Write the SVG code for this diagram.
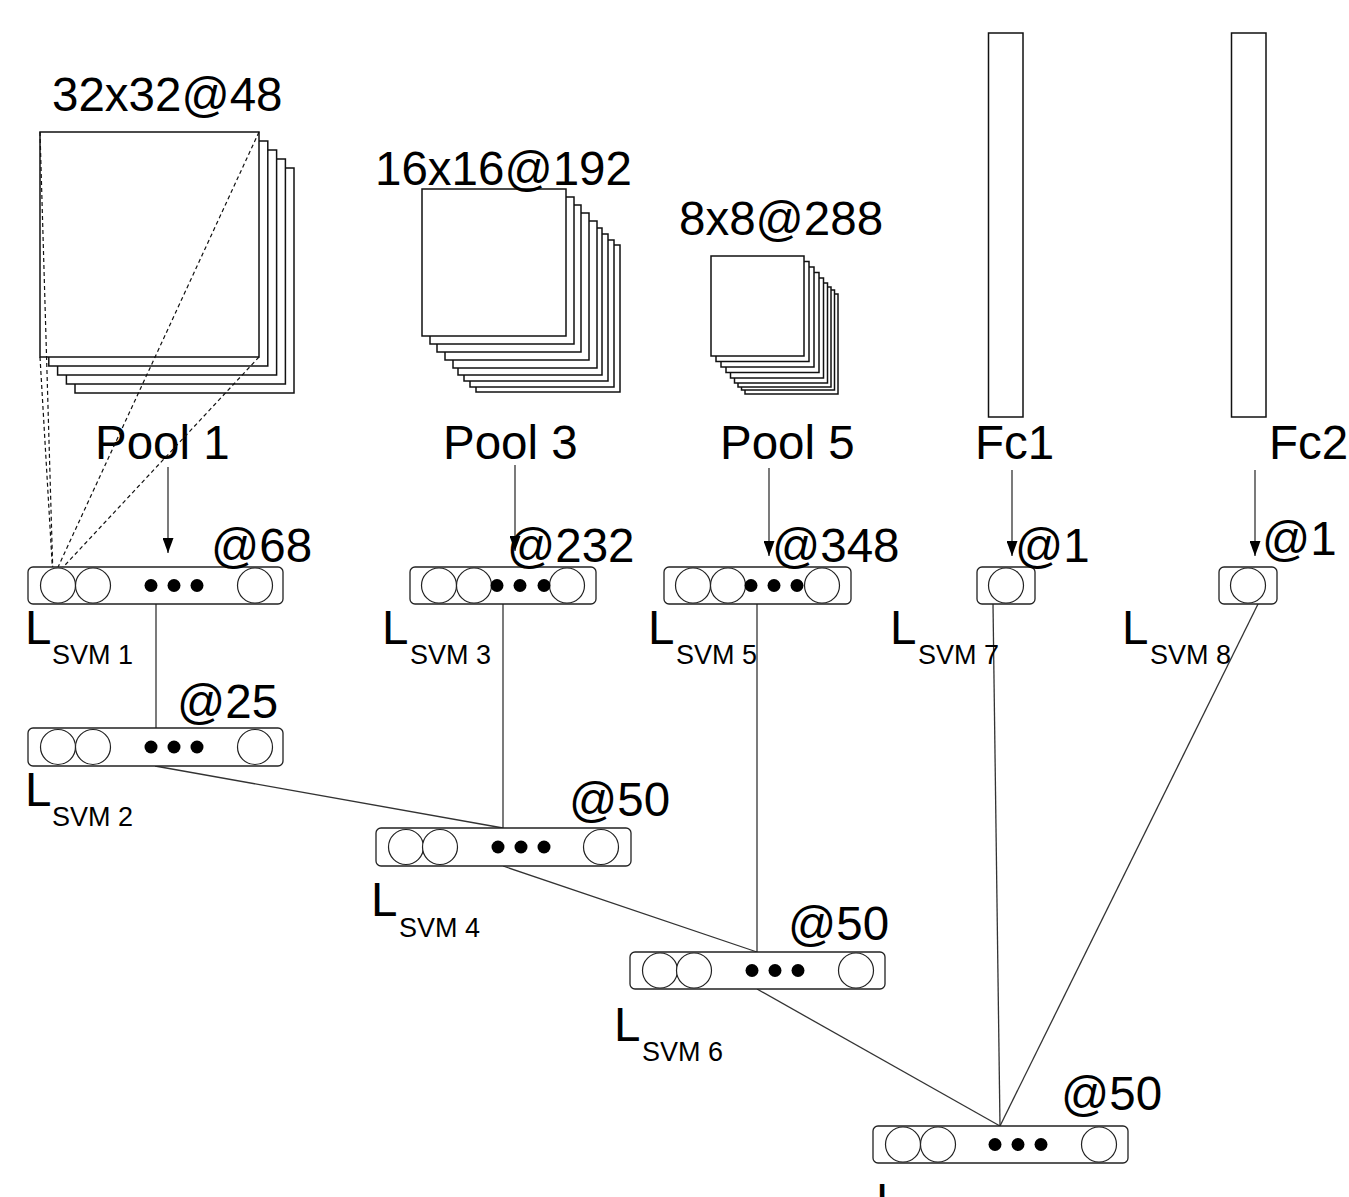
<svg xmlns="http://www.w3.org/2000/svg" width="1349" height="1197" viewBox="0 0 1349 1197">
<style>
text{font-family:"Liberation Sans",Arial,sans-serif;fill:#000}
.big{font-size:47.5px}
.sub{font-size:27px}
.lay{fill:#fff;stroke:#111;stroke-width:1.5}
.box{fill:#fff;stroke:#222;stroke-width:1.3}
.c{fill:#fff;stroke:#222;stroke-width:1.2}
.d{fill:#000}
.ln{stroke:#333;stroke-width:1.3;fill:none}
.dash{stroke:#111;stroke-width:1.2;stroke-dasharray:4 3;fill:none}
</style>
<defs>
<marker id="ah" markerWidth="15" markerHeight="11" refX="15" refY="5.5" orient="auto" markerUnits="userSpaceOnUse">
<path d="M0,0 L15,5.5 L0,11 Z" fill="#000"/>
</marker>
</defs>

<g id="stack1">
<rect class="lay" x="75" y="168" width="219" height="225"/>
<rect class="lay" x="66.4" y="159" width="219" height="225"/>
<rect class="lay" x="57.6" y="150" width="219" height="225"/>
<rect class="lay" x="48.8" y="141" width="219" height="225"/>
<rect class="lay" x="40" y="132" width="219" height="225"/>
<text class="big" x="52" y="111">32x32@48</text>
<text class="big" x="95" y="459">Pool 1</text>
</g>

<g id="stack3">
<rect class="lay" x="476" y="245" width="144" height="147"/>
<rect class="lay" x="470" y="240" width="144" height="147"/>
<rect class="lay" x="464" y="234" width="144" height="147"/>
<rect class="lay" x="458" y="228" width="144" height="147"/>
<rect class="lay" x="453" y="221" width="144" height="147"/>
<rect class="lay" x="445" y="213" width="144" height="147"/>
<rect class="lay" x="437" y="205" width="144" height="147"/>
<rect class="lay" x="430" y="197" width="144" height="147"/>
<rect class="lay" x="422" y="189" width="144" height="147"/>
<text class="big" x="375" y="185">16x16@192</text>
<text class="big" x="443" y="459">Pool 3</text>
</g>

<g id="stack5">
<rect class="lay" x="745" y="294" width="93" height="100"/>
<rect class="lay" x="741.5" y="290" width="93" height="100"/>
<rect class="lay" x="738" y="287" width="93" height="100"/>
<rect class="lay" x="734.5" y="283" width="93" height="100"/>
<rect class="lay" x="730.5" y="278" width="93" height="100"/>
<rect class="lay" x="726" y="272.5" width="93" height="100"/>
<rect class="lay" x="721" y="267" width="93" height="100"/>
<rect class="lay" x="716" y="261.5" width="93" height="100"/>
<rect class="lay" x="711" y="256" width="93" height="100"/>
<text class="big" x="679" y="235">8x8@288</text>
<text class="big" x="720" y="459">Pool 5</text>
</g>

<g id="fc1">
<rect class="lay" x="988.5" y="33" width="34.5" height="384"/>
<text class="big" x="975" y="459">Fc1</text>
</g>

<g id="fc2">
<rect class="lay" x="1231.5" y="33" width="34.5" height="384"/>
<text class="big" x="1269" y="459">Fc2</text>
</g>

<g id="connectors">
<line class="dash" x1="40" y1="132" x2="53" y2="578"/>
<line class="dash" x1="259" y1="132" x2="53" y2="578"/>
<line class="dash" x1="40" y1="357" x2="53" y2="578"/>
<line class="dash" x1="259" y1="357" x2="53" y2="578"/>
<line class="ln" x1="168" y1="467" x2="168" y2="553" marker-end="url(#ah)"/>
<line class="ln" x1="515" y1="465" x2="515" y2="551" marker-end="url(#ah)"/>
<line class="ln" x1="769" y1="468" x2="769" y2="556" marker-end="url(#ah)"/>
<line class="ln" x1="1012" y1="470" x2="1012" y2="556" marker-end="url(#ah)"/>
<line class="ln" x1="1255" y1="470" x2="1255" y2="556" marker-end="url(#ah)"/>
<line class="ln" x1="156" y1="604" x2="156" y2="728"/>
<line class="ln" x1="503" y1="604" x2="503" y2="828"/>
<line class="ln" x1="757" y1="604" x2="757" y2="952"/>
<line class="ln" x1="155" y1="766" x2="503" y2="828"/>
<line class="ln" x1="503" y1="866" x2="757" y2="952"/>
<line class="ln" x1="757" y1="989" x2="1000" y2="1126"/>
<line class="ln" x1="993" y1="604" x2="1000" y2="1126"/>
<line class="ln" x1="1260" y1="600" x2="1000" y2="1126"/>
</g>

<g id="svm1">
<rect class="box" x="28" y="567" width="255" height="37" rx="5"/>
<circle class="c" cx="58" cy="585.5" r="17.5"/>
<circle class="c" cx="93" cy="585.5" r="17.5"/>
<circle class="c" cx="255" cy="585.5" r="17.5"/>
<circle class="d" cx="151" cy="585.5" r="6.5"/>
<circle class="d" cx="174" cy="585.5" r="6.5"/>
<circle class="d" cx="197" cy="585.5" r="6.5"/>
<text class="big" x="211" y="562">@68</text>
<text class="big" x="25" y="644">L</text>
<text class="sub" x="52" y="664">SVM 1</text>
</g>

<g id="svm2">
<rect class="box" x="28" y="728" width="255" height="38" rx="5"/>
<circle class="c" cx="58" cy="747" r="17.5"/>
<circle class="c" cx="93" cy="747" r="17.5"/>
<circle class="c" cx="255" cy="747" r="17.5"/>
<circle class="d" cx="151" cy="747" r="6.5"/>
<circle class="d" cx="174" cy="747" r="6.5"/>
<circle class="d" cx="197" cy="747" r="6.5"/>
<text class="big" x="177" y="718">@25</text>
<text class="big" x="25" y="806">L</text>
<text class="sub" x="52" y="826">SVM 2</text>
</g>

<g id="svm3">
<rect class="box" x="410" y="567" width="186" height="37" rx="5"/>
<circle class="c" cx="439" cy="585.5" r="17.5"/>
<circle class="c" cx="474" cy="585.5" r="17.5"/>
<circle class="c" cx="567" cy="585.5" r="17.5"/>
<circle class="d" cx="497" cy="585.5" r="6.5"/>
<circle class="d" cx="520" cy="585.5" r="6.5"/>
<circle class="d" cx="544" cy="585.5" r="6.5"/>
<text class="big" x="507" y="562">@232</text>
<text class="big" x="382" y="644">L</text>
<text class="sub" x="410" y="664">SVM 3</text>
</g>

<g id="svm5">
<rect class="box" x="664" y="567" width="187" height="37" rx="5"/>
<circle class="c" cx="693" cy="585.5" r="17.5"/>
<circle class="c" cx="728" cy="585.5" r="17.5"/>
<circle class="c" cx="822" cy="585.5" r="17.5"/>
<circle class="d" cx="751" cy="585.5" r="6.5"/>
<circle class="d" cx="774" cy="585.5" r="6.5"/>
<circle class="d" cx="797" cy="585.5" r="6.5"/>
<text class="big" x="772" y="562">@348</text>
<text class="big" x="648" y="644">L</text>
<text class="sub" x="676" y="664">SVM 5</text>
</g>

<g id="svm7">
<rect class="box" x="977" y="567" width="58" height="37" rx="5"/>
<circle class="c" cx="1006" cy="585.5" r="17.5"/>
<text class="big" x="1015" y="562">@1</text>
<text class="big" x="890" y="644">L</text>
<text class="sub" x="918" y="664">SVM 7</text>
</g>

<g id="svm8">
<rect class="box" x="1219" y="567" width="58" height="37" rx="5"/>
<circle class="c" cx="1248" cy="585.5" r="17.5"/>
<text class="big" x="1262" y="555">@1</text>
<text class="big" x="1122" y="644">L</text>
<text class="sub" x="1150" y="664">SVM 8</text>
</g>

<g id="svm4">
<rect class="box" x="376" y="828" width="255" height="38" rx="5"/>
<circle class="c" cx="406" cy="847" r="17.5"/>
<circle class="c" cx="440" cy="847" r="17.5"/>
<circle class="c" cx="601" cy="847" r="17.5"/>
<circle class="d" cx="498" cy="847" r="6.5"/>
<circle class="d" cx="521" cy="847" r="6.5"/>
<circle class="d" cx="544" cy="847" r="6.5"/>
<text class="big" x="569" y="816">@50</text>
<text class="big" x="371" y="916">L</text>
<text class="sub" x="399" y="937">SVM 4</text>
</g>

<g id="svm6">
<rect class="box" x="630" y="952" width="255" height="37" rx="5"/>
<circle class="c" cx="660" cy="970.5" r="17.5"/>
<circle class="c" cx="694" cy="970.5" r="17.5"/>
<circle class="c" cx="856" cy="970.5" r="17.5"/>
<circle class="d" cx="752" cy="970.5" r="6.5"/>
<circle class="d" cx="775" cy="970.5" r="6.5"/>
<circle class="d" cx="798" cy="970.5" r="6.5"/>
<text class="big" x="788" y="940">@50</text>
<text class="big" x="614" y="1041">L</text>
<text class="sub" x="642" y="1061">SVM 6</text>
</g>

<g id="svm9">
<rect class="box" x="873" y="1126" width="255" height="37" rx="5"/>
<circle class="c" cx="903" cy="1144.5" r="17.5"/>
<circle class="c" cx="938" cy="1144.5" r="17.5"/>
<circle class="c" cx="1099" cy="1144.5" r="17.5"/>
<circle class="d" cx="995" cy="1144.5" r="6.5"/>
<circle class="d" cx="1018" cy="1144.5" r="6.5"/>
<circle class="d" cx="1041" cy="1144.5" r="6.5"/>
<text class="big" x="1061" y="1110">@50</text>
<text class="big" x="876" y="1217">L</text>
</g>
</svg>
